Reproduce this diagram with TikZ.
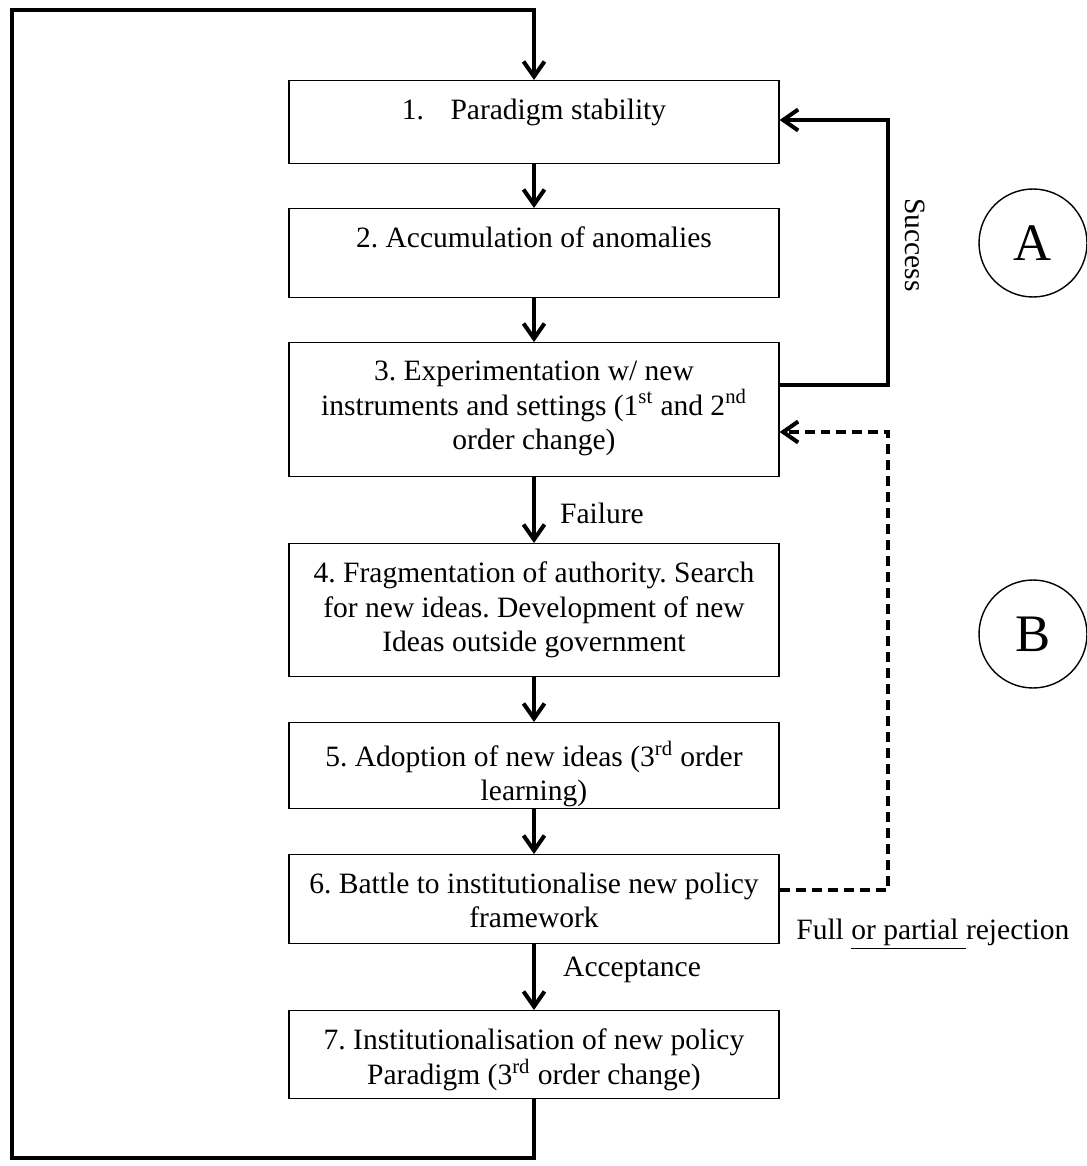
\documentclass[tikz,border=0pt]{standalone}
\usepackage{fontspec}
\setmainfont{Liberation Serif}
\usetikzlibrary{arrows.meta}
\begin{document}
\frenchspacing
\begin{tikzpicture}[x=0.02cm,y=-0.02cm,
  font=\fontsize{16.8}{19.7}\selectfont,
  box/.style={draw, line width=0.8pt, minimum width=9.8cm, anchor=north, inner sep=0pt},
  lbl/.style={anchor=north, align=center, inner sep=0pt, yshift=-0.37cm},
  conn/.style={line width=2.3pt, -{Straight Barb[length=0.3cm,width=0.42cm,line width=2.3pt]}},
  dashconn/.style={conn, dash pattern=on 0.2cm off 0.12cm},
  circ/.style={draw, circle, line width=0.8pt, minimum size=2.16cm, inner sep=0pt, font=\fontsize{30}{36}\selectfont}
]
\useasboundingbox (0,0) rectangle (1087,1166);

\node[box, minimum height=1.66cm, label={[lbl]north:1.\hspace{0.9em}Paradigm stability}] (b1) at (534,80) {};
\node[box, minimum height=1.78cm, label={[lbl]north:2. Accumulation of anomalies}] (b2) at (534,208) {};
\node[box, minimum height=2.68cm, label={[lbl]north:3. Experimentation w/ new\\instruments and settings (1\textsuperscript{st} and 2\textsuperscript{nd}\\order change)}] (b3) at (534,342) {};
\node[box, minimum height=2.66cm, label={[lbl]north:4. Fragmentation of authority. Search\\for new ideas. Development of new\\Ideas outside government}] (b4) at (534,543) {};
\node[box, minimum height=1.72cm, label={[lbl]north:5. Adoption of new ideas (3\textsuperscript{rd} order\\learning)}] (b5) at (534,722) {};
\node[box, minimum height=1.78cm, label={[lbl]north:6. Battle to institutionalise new policy\\framework}] (b6) at (534,854) {};
\node[box, minimum height=1.76cm, label={[lbl]north:7. Institutionalisation of new policy\\Paradigm (3\textsuperscript{rd} order change)}] (b7) at (534,1010) {};

\node[circ] (ca) at (1033,243) {A};
\node[circ] (cb) at (1033,634) {B};

\draw[conn] (b1.south) -- (b2.north);
\draw[conn] (b2.south) -- (b3.north);
\draw[conn] (b3.south) -- (b4.north);
\draw[conn] (b4.south) -- (b5.north);
\draw[conn] (b5.south) -- (b6.north);
\draw[conn] (b6.south) -- (b7.north);

\node[anchor=west] (fail) at (554,513) {Failure};
\node[anchor=west] (acc) at (557,970) {Acceptance};

\coordinate (lb) at (534,1158);
\coordinate (ll) at (12,1158);
\coordinate (lt) at (12,10);
\coordinate (rt) at (534,10);
\draw[conn, line join=miter] (b7.south) -- (lb) -- (ll) -- (lt) -- (rt) -- (b1.north);

\coordinate (s1) at (888,385);
\coordinate (s2) at (888,120);
\draw[conn, line join=miter] (b3.east |- s1) -- (s1) -- (s2) -- (b1.east |- s2);
\node[rotate=-90] (succ) at (915,245) {Success};

\coordinate (d1) at (888,890);
\coordinate (d2) at (888,432);
\draw[dashconn, line join=miter] (b6.east |- d1) -- (d1) -- (d2) -- (b3.east |- d2);
\node[anchor=west, inner sep=0pt] (rej) at (796,934) {Full \underline{or partial }rejection};
\end{tikzpicture}
\end{document}
